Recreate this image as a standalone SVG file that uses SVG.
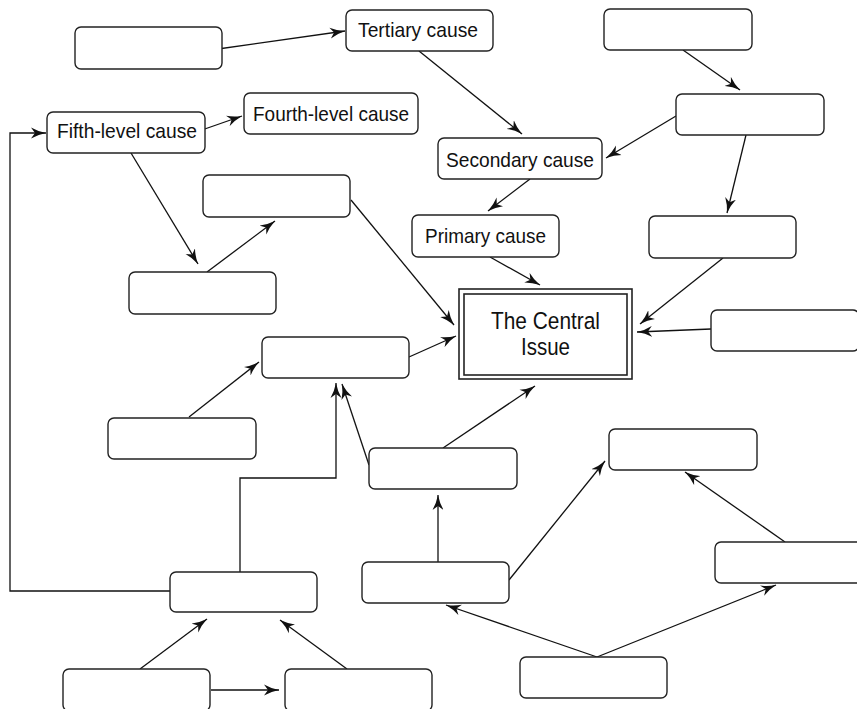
<svg xmlns="http://www.w3.org/2000/svg" width="857" height="709" viewBox="0 0 857 709">
  <defs>
    <marker id="arrow" markerUnits="userSpaceOnUse" markerWidth="16" markerHeight="12" refX="15" refY="6" orient="auto">
      <path d="M0,0.5 Q6.5,4.3 15,6 Q6.5,7.7 0,11.5 L4,6 Z" fill="#111"/>
    </marker>
    <style>
      .box { fill: #fff; stroke: #222; stroke-width: 1.4; }
      .frame { fill: #fff; stroke: #222; stroke-width: 1.6; }
      .link { fill: none; stroke: #111; stroke-width: 1.3; marker-end: url(#arrow); }
      .label { font-family: "Liberation Sans", Arial, sans-serif; font-size: 21px; fill: #111; }
      .main { font-family: "Liberation Sans", Arial, sans-serif; font-size: 24.5px; fill: #111; }
    </style>
  </defs>

  <rect width="857" height="709" fill="#fff"/>

  <!-- connectors -->
  <g id="connectors">
    <line class="link" x1="218" y1="49" x2="345" y2="31"/>
    <line class="link" x1="419" y1="51" x2="522" y2="134"/>
    <line class="link" x1="683" y1="50" x2="740" y2="90"/>
    <line class="link" x1="676" y1="116" x2="606" y2="158"/>
    <line class="link" x1="746" y1="135" x2="727" y2="213"/>
    <line class="link" x1="530" y1="179" x2="488" y2="211"/>
    <line class="link" x1="490" y1="257" x2="540" y2="285"/>
    <line class="link" x1="199" y1="131" x2="242" y2="116"/>
    <line class="link" x1="131" y1="153" x2="198" y2="264"/>
    <line class="link" x1="207" y1="272" x2="275" y2="221"/>
    <line class="link" x1="351" y1="200" x2="454" y2="325"/>
    <line class="link" x1="409" y1="357" x2="456" y2="336"/>
    <line class="link" x1="723" y1="258" x2="640" y2="324"/>
    <line class="link" x1="711" y1="329" x2="637" y2="332"/>
    <line class="link" x1="443" y1="448" x2="535" y2="386"/>
    <line class="link" x1="189" y1="417" x2="259" y2="362"/>
    <polyline class="link" points="240,572 240,478 336,478 336,383"/>
    <line class="link" x1="369" y1="465" x2="342" y2="384"/>
    <line class="link" x1="438" y1="562" x2="438" y2="495"/>
    <line class="link" x1="509" y1="580" x2="605" y2="461"/>
    <line class="link" x1="785" y1="542" x2="685" y2="472"/>
    <line class="link" x1="597" y1="657" x2="446" y2="605"/>
    <line class="link" x1="597" y1="657" x2="776" y2="585"/>
    <line class="link" x1="140" y1="669" x2="207" y2="619"/>
    <line class="link" x1="347" y1="669" x2="280" y2="620"/>
    <line class="link" x1="211" y1="690" x2="279" y2="690"/>
    <polyline class="link" points="170,591 10,591 10,133 46,133"/>
  </g>

  <!-- nodes -->
  <g id="node-top-left"><rect class="box" x="75" y="27" width="147" height="42" rx="6"/></g>
  <g id="node-tertiary">
    <rect class="box" x="346" y="10" width="147" height="41" rx="6"/>
    <text class="label" x="358" y="37" textLength="120" lengthAdjust="spacingAndGlyphs">Tertiary cause</text>
  </g>
  <g id="node-top-right"><rect class="box" x="604" y="9" width="148" height="41" rx="6"/></g>
  <g id="node-fifth">
    <rect class="box" x="47" y="112" width="158" height="41" rx="6"/>
    <text class="label" x="57" y="138" textLength="140" lengthAdjust="spacingAndGlyphs">Fifth-level cause</text>
  </g>
  <g id="node-fourth">
    <rect class="box" x="244" y="93" width="174" height="41" rx="6"/>
    <text class="label" x="253" y="120.5" textLength="156" lengthAdjust="spacingAndGlyphs">Fourth-level cause</text>
  </g>
  <g id="node-right-upper"><rect class="box" x="676" y="94" width="148" height="41" rx="6"/></g>
  <g id="node-secondary">
    <rect class="box" x="438" y="138" width="164" height="41" rx="6"/>
    <text class="label" x="446" y="167" textLength="148" lengthAdjust="spacingAndGlyphs">Secondary cause</text>
  </g>
  <g id="node-left-upper"><rect class="box" x="203" y="175" width="147" height="42" rx="6"/></g>
  <g id="node-primary">
    <rect class="box" x="412" y="215" width="147" height="42" rx="6"/>
    <text class="label" x="425" y="243" textLength="121" lengthAdjust="spacingAndGlyphs">Primary cause</text>
  </g>
  <g id="node-right-mid"><rect class="box" x="649" y="216" width="147" height="42" rx="6"/></g>
  <g id="node-left-mid"><rect class="box" x="129" y="272" width="147" height="42" rx="6"/></g>
  <g id="node-central">
    <rect class="frame" x="459" y="289" width="173" height="90"/>
    <rect class="frame" x="464" y="294" width="163" height="81"/>
    <text class="main" x="491" y="329" textLength="109" lengthAdjust="spacingAndGlyphs">The Central</text>
    <text class="main" x="521" y="355" textLength="49" lengthAdjust="spacingAndGlyphs">Issue</text>
  </g>
  <g id="node-right-edge"><rect class="box" x="711" y="310" width="148" height="41" rx="6"/></g>
  <g id="node-center-left"><rect class="box" x="262" y="337" width="147" height="41" rx="6"/></g>
  <g id="node-far-left"><rect class="box" x="108" y="418" width="148" height="41" rx="6"/></g>
  <g id="node-center-low"><rect class="box" x="369" y="448" width="148" height="41" rx="6"/></g>
  <g id="node-right-low"><rect class="box" x="609" y="429" width="148" height="41" rx="6"/></g>
  <g id="node-right-bottom"><rect class="box" x="715" y="542" width="147" height="41" rx="6"/></g>
  <g id="node-mid-bottom"><rect class="box" x="362" y="562" width="147" height="41" rx="6"/></g>
  <g id="node-left-bottom"><rect class="box" x="170" y="572" width="147" height="40" rx="6"/></g>
  <g id="node-bottom-center"><rect class="box" x="520" y="657" width="147" height="41" rx="6"/></g>
  <g id="node-bottom-left"><rect class="box" x="63" y="669" width="147" height="42" rx="6"/></g>
  <g id="node-bottom-mid"><rect class="box" x="285" y="669" width="147" height="42" rx="6"/></g>
</svg>
